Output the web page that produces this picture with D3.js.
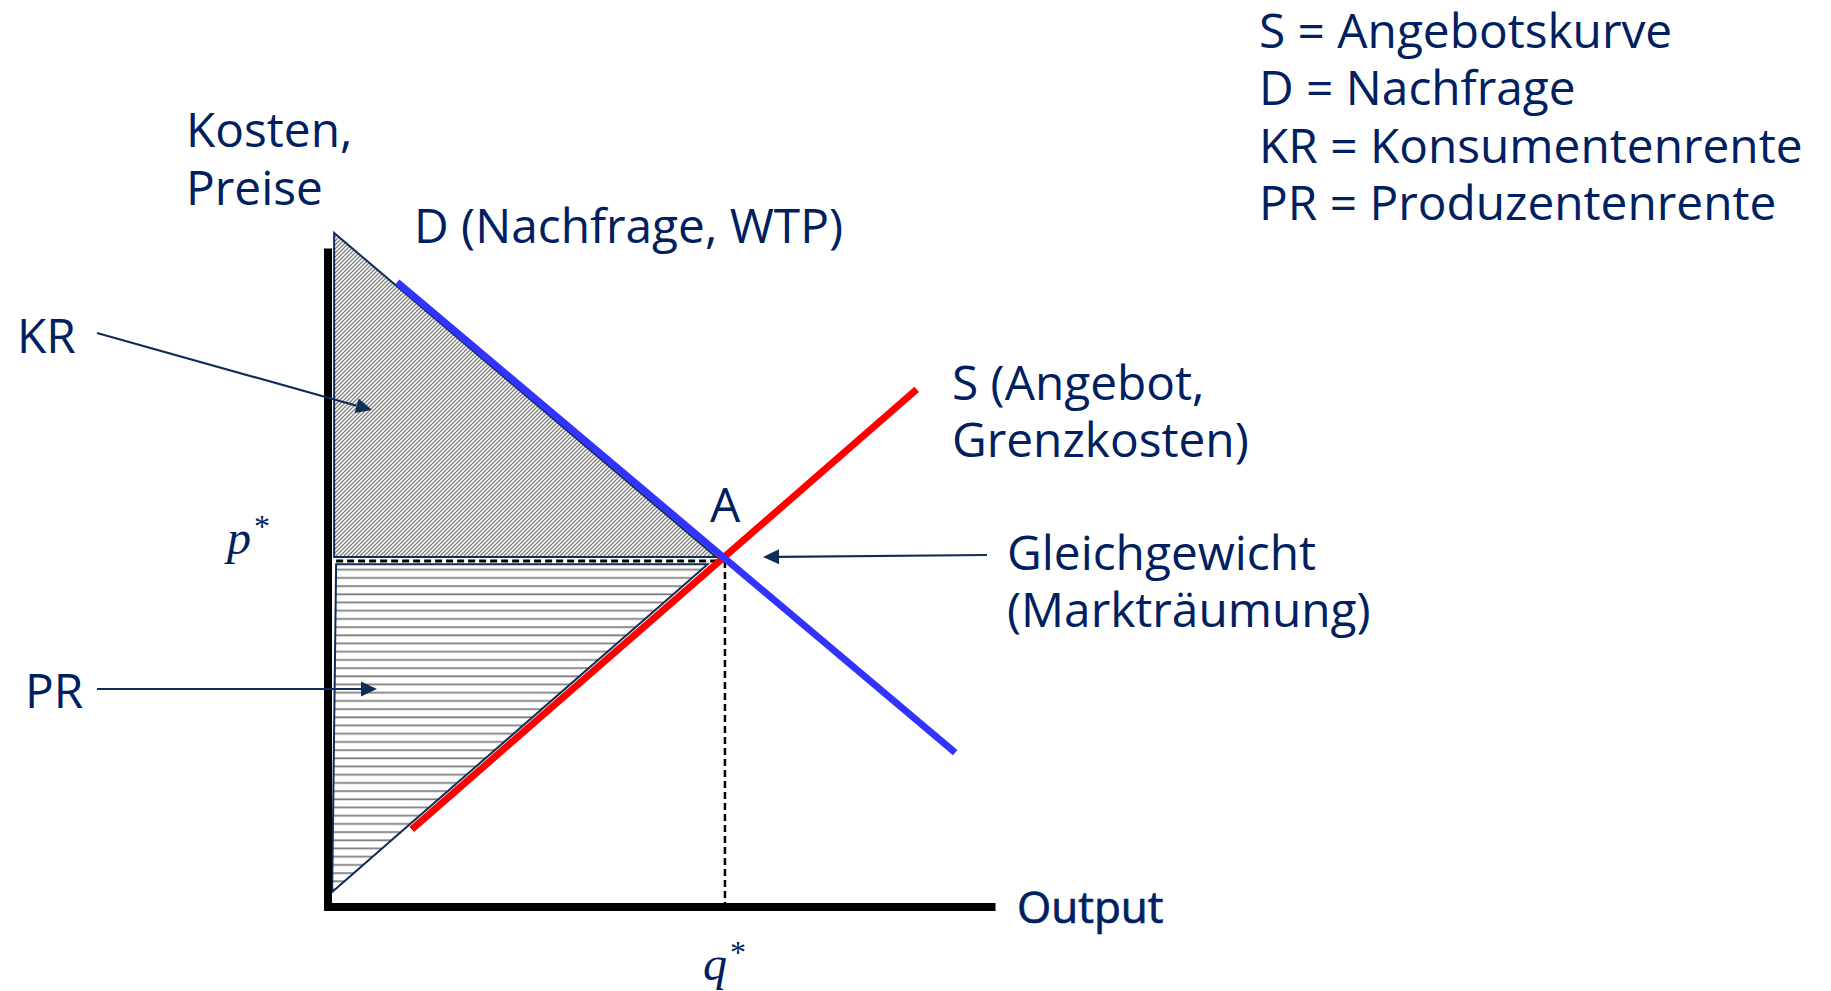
<!DOCTYPE html>
<html><head><meta charset="utf-8">
<script src="https://cdn.jsdelivr.net/npm/d3@7/dist/d3.min.js"></script>
<style>
body{margin:0;background:#fff;}
text{font-family:'Open Sans',sans-serif;fill:#002060;}
</style>
</head><body>
<svg id="c" width="1831" height="991"></svg>
<script>
// ---- data (q = output, p = cost/price, arbitrary units 0..100) ----
const demandQ = [10.5, 94.6];
const demandP = [95.4, 23.5];
const supplyQ = [12.7, 88.8];
const supplyP = [11.8, 79.0];
const krQ = [1.0, 1.0, 58.6];
const krP = [102.9, 53.4, 53.4];
const prQ = [1.3, 57.3, 0.7];
const prP = [52.3, 52.3, 2.2];
const pStar = 52.8;
const qStar = 59.9;
const legendLines = ["S = Angebotskurve", "D = Nachfrage", "KR = Konsumentenrente", "PR = Produzentenrente"];
const yAxisLabel = ["Kosten,", "Preise"];
const demandLabel = "D (Nachfrage, WTP)";
const supplyLabel = ["S (Angebot,", "Grenzkosten)"];
const eqLabel = ["Gleichgewicht", "(Markträumung)"];
const xAxisLabel = "Output";

const svg = d3.select("#c");
const x = d3.scaleLinear().domain([0, 100]).range([327.5, 991]);
const y = d3.scaleLinear().domain([0, 100]).range([906.5, 252]);
const navy = "#0e2d57";
const FS = 47.8;

// patterns
const defs = svg.append("defs");
const pk = defs.append("pattern").attr("id", "diag").attr("patternUnits", "userSpaceOnUse")
  .attr("width", 4).attr("height", 4);
pk.append("rect").attr("width", 4).attr("height", 4).attr("fill", "#fff");
pk.append("path").attr("d", "M-1,1 l2,-2 M0,4 l4,-4 M3,5 l2,-2")
  .attr("stroke", "#808080").attr("stroke-width", 1.25);
const pp = defs.append("pattern").attr("id", "horiz").attr("patternUnits", "userSpaceOnUse")
  .attr("width", 8).attr("height", 8.2).attr("y", 0);
pp.append("rect").attr("width", 8).attr("height", 8.2).attr("fill", "#fff");
pp.append("rect").attr("y", 3).attr("width", 8).attr("height", 1.8).attr("fill", "#808080");

const line = d3.line().x(d => x(d[0])).y(d => y(d[1]));
const kr = krQ.map((q, i) => [q, krP[i]]);
const pr = prQ.map((q, i) => [q, prP[i]]);

svg.append("path").attr("d", line(kr) + "Z").attr("fill", "url(#diag)")
  .attr("stroke", navy).attr("stroke-width", 2).attr("stroke-linejoin", "miter");
svg.append("path").attr("d", line(pr) + "Z").attr("fill", "url(#horiz)")
  .attr("stroke", navy).attr("stroke-width", 2);

// dashed guides
svg.append("path").attr("d", line([[prQ[0], pStar], [qStar, pStar]]))
  .attr("stroke", "#000").attr("stroke-width", 3).attr("stroke-dasharray", "7,4").attr("fill", "none");
svg.append("path").attr("d", line([[qStar, pStar], [qStar, 0]]))
  .attr("stroke", "#000").attr("stroke-width", 2.5).attr("stroke-dasharray", "7,4").attr("fill", "none");

// supply & demand curves
svg.append("path").attr("d", line(supplyQ.map((q, i) => [q, supplyP[i]])))
  .attr("stroke", "#ff0000").attr("stroke-width", 7).attr("fill", "none");
svg.append("path").attr("d", line(demandQ.map((q, i) => [q, demandP[i]])))
  .attr("stroke", "#3333ff").attr("stroke-width", 7).attr("fill", "none");

// axes
const xAxis = svg.append("g").attr("transform", `translate(0,${y(0)})`)
  .call(d3.axisBottom(x).tickValues([]).tickSizeOuter(0));
const yAxis = svg.append("g").attr("transform", `translate(${x(0)},0)`)
  .call(d3.axisLeft(y).tickValues([]).tickSizeOuter(0));
[xAxis, yAxis].forEach(g => g.select(".domain").attr("stroke", "#000")
  .attr("stroke-width", 8).attr("stroke-linecap", "square"));

// arrows
function arrow(x1, y1, x2, y2) {
  const a = Math.atan2(y2 - y1, x2 - x1), L = 16, W = 7.5;
  const bx = x2 - L * Math.cos(a), by = y2 - L * Math.sin(a);
  svg.append("line").attr("x1", x1).attr("y1", y1).attr("x2", bx).attr("y2", by)
    .attr("stroke", navy).attr("stroke-width", 2.2);
  svg.append("path").attr("d", `M${x2},${y2} L${bx - W * Math.sin(a)},${by + W * Math.cos(a)} L${bx + W * Math.sin(a)},${by - W * Math.cos(a)} Z`)
    .attr("fill", navy);
}
arrow(97, 333, 372, 410);
arrow(97, 689, 377, 689);
arrow(987, 555, 763, 557);

// texts
function txt(str, tx, ty, size) {
  return svg.append("text").attr("x", tx).attr("y", ty).attr("font-size", size || FS).text(str);
}
legendLines.forEach((s, i) => txt(s, 1259, 48 + i * 57.3));
yAxisLabel.forEach((s, i) => txt(s, 186, 147 + i * 58));
txt(demandLabel, 414, 243);
txt("KR", 17, 353);
txt("PR", 25, 708);
supplyLabel.forEach((s, i) => txt(s, 952, 400 + i * 57));
txt("A", 710, 522);
eqLabel.forEach((s, i) => txt(s, 1007, 570 + i * 57));
txt(xAxisLabel, 1017, 923, 44).attr("stroke", "#002060").attr("stroke-width", 0.7);

function mathLabel(letter, tx, ty) {
  const t = svg.append("text").attr("x", tx).attr("y", ty)
    .style("font-family", "'Liberation Serif', serif").style("font-style", "italic")
    .attr("font-size", 48);
  t.append("tspan").text(letter);
  t.append("tspan").attr("dy", -17).attr("dx", 3).attr("font-size", 32).style("font-style", "normal").text("*");
}
mathLabel("p", 227, 554);
mathLabel("q", 703, 980);
</script>
</body></html>
